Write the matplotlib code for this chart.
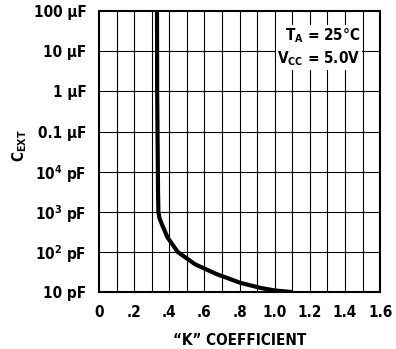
import matplotlib.pyplot as plt
import numpy as np

plt.rcParams['font.family'] = ['DejaVu Sans']
plt.rcParams['font.stretch'] = 'condensed'
plt.rcParams['font.weight'] = 'bold'
plt.rcParams['axes.labelweight'] = 'bold'
plt.rcParams['mathtext.fontset'] = 'custom'
plt.rcParams['mathtext.rm'] = 'DejaVu Sans:bold'
plt.rcParams['mathtext.it'] = 'DejaVu Sans:bold'
plt.rcParams['mathtext.bf'] = 'DejaVu Sans:bold'

# curve: K coefficient vs C_ext (pF)
k_coef = [0.330, 0.331, 0.333, 0.335, 0.336, 0.338, 0.344, 0.358, 0.39, 0.448, 0.548, 0.67, 0.805, 0.92, 1.0, 1.1]
c_ext = [1e8, 1e6, 1e5, 1e4, 3e3, 1e3, 700, 490, 230, 100, 49, 28, 17, 12.7, 11, 10]

y_ticks = [10, 1e2, 1e3, 1e4, 1e5, 1e6, 1e7, 1e8]
y_labels = ['10 pF', '10$^2$ pF', '10$^3$ pF', '10$^4$ pF',
            '0.1 \u03bcF', '1 \u03bcF', '10 \u03bcF', '100 \u03bcF']
x_ticks = [0, 0.2, 0.4, 0.6, 0.8, 1.0, 1.2, 1.4, 1.6]
x_labels = ['0', '.2', '.4', '.6', '.8', '1.0', '1.2', '1.4', '1.6']

fig = plt.figure(figsize=(3.96, 3.49), dpi=100)
ax = fig.add_axes([0.25, 0.163, 0.71, 0.805])

ax.set_yscale('log')
ax.set_xlim(0, 1.6)
ax.set_ylim(10, 1e8)

for x in np.arange(0.1, 1.6, 0.1):
    ax.axvline(x, color='black', lw=0.8)
for y in y_ticks[1:-1]:
    ax.axhline(y, color='black', lw=0.8)

ax.plot(k_coef, c_ext, color='black', lw=3, solid_capstyle='butt')

ax.set_xticks(x_ticks)
ax.set_xticklabels(x_labels)
ax.set_yticks(y_ticks)
ax.set_yticklabels(y_labels)
ax.minorticks_off()
ax.tick_params(axis='x', length=0, labelsize=11, pad=9)
ax.tick_params(axis='y', length=0, labelsize=11, pad=9)
for s in ax.spines.values():
    s.set_linewidth(1.5)

ax.set_xlabel('\u201cK\u201d COEFFICIENT', fontsize=11)
ax.xaxis.set_label_coords(0.5, -0.145)
ax.set_ylabel('C$_{EXT}$', fontsize=11)
ax.yaxis.set_label_coords(-0.25, 0.52)

ax.text(0.93, 0.945, 'T$_A$ = 25\u00b0C\nV$_{CC}$ = 5.0V', transform=ax.transAxes,
        ha='right', va='top', fontsize=11, linespacing=1.3,
        bbox=dict(facecolor='white', edgecolor='none', pad=1))

fig.savefig('out.png', dpi=100)
